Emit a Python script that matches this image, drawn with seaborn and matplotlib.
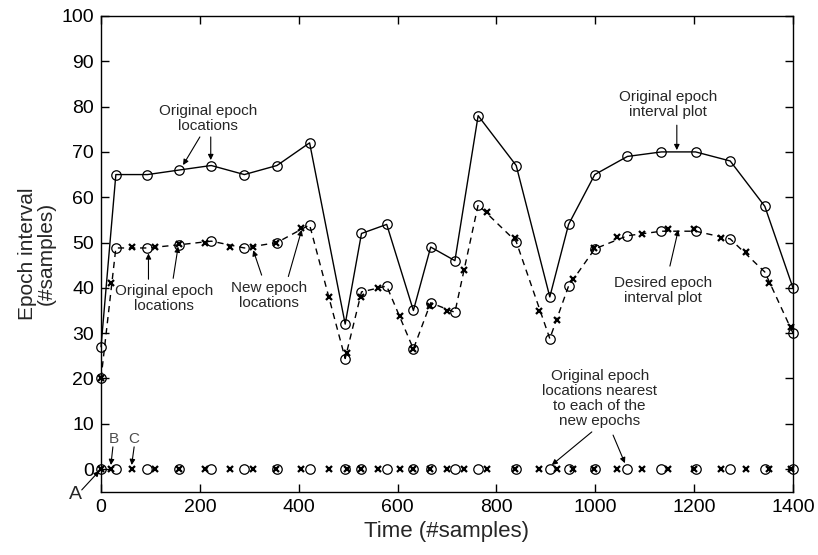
import matplotlib
matplotlib.use("Agg")
import matplotlib.pyplot as plt
import seaborn as sns

# original epoch locations and their intervals (solid curve)
orig_locs = [0, 30, 94, 158, 223, 290, 356, 422, 494, 527, 578, 632, 667,
             716, 763, 840, 908, 946, 999, 1065, 1134, 1203, 1273, 1343, 1400]
orig_interval = [27, 65, 65, 66, 67, 65, 67, 72, 32, 52, 54, 35, 49,
                 46, 78, 67, 38, 54, 65, 69, 70, 70, 68, 58, 40]
# desired interval read at the original epochs (dashed curve)
desired_at_orig = [20, 48.8, 48.8, 49.5, 50.3, 48.8, 50, 53.9, 24.4, 39.1, 40.4, 26.5, 36.7,
                   34.6, 58.3, 50.2, 28.8, 40.4, 48.6, 51.5, 52.5, 52.5, 50.8, 43.5, 30]
# new epoch locations and their desired intervals (x markers)
new_locs = [0, 20, 62, 110, 157, 210, 260, 308, 355, 405, 461, 497, 525, 561, 604, 632, 666,
            700, 735, 780, 838, 886, 922, 955, 998, 1044, 1095, 1148, 1200, 1255, 1305, 1352, 1396]
new_interval = [20, 41, 49, 49, 49.6, 50, 49, 49, 50, 53.1, 38, 25.7, 38, 40, 33.8, 26.6, 36,
                34.9, 43.9, 56.8, 51.1, 34.9, 32.9, 41.9, 48.9, 51.2, 51.9, 53, 53, 51.1, 47.9, 41.1, 31.4]

x_ticks = [0, 200, 400, 600, 800, 1000, 1200, 1400]
y_ticks = [0, 10, 20, 30, 40, 50, 60, 70, 80, 90, 100]

sns.set_style("ticks")
plt.rcParams["font.family"] = ["Liberation Sans", "DejaVu Sans"]

fig = plt.figure(figsize=(8.18, 5.55), dpi=100)
ax = fig.add_axes([0.1235, 0.114, 0.9694 - 0.1235, 0.9712 - 0.114])

circ = dict(marker="o", mfc="none", mec="k", ms=6.8, mew=0.9, clip_on=False)
cross = dict(marker="x", mec="k", ms=5, mew=1.6, clip_on=False)

sns.lineplot(x=orig_locs, y=orig_interval, ax=ax, color="k", lw=1.0, **circ)
sns.lineplot(x=orig_locs, y=desired_at_orig, ax=ax, color="k", lw=1.0,
             linestyle=(0, (4.5, 3.5)), **circ)
sns.lineplot(x=new_locs, y=new_interval, ax=ax, color="k", linestyle="none", **cross)

# bottom row: epoch positions
sns.lineplot(x=orig_locs, y=[0] * len(orig_locs), ax=ax, color="k", linestyle="none", **circ)
sns.lineplot(x=new_locs, y=[0] * len(new_locs), ax=ax, color="k", linestyle="none", **cross)

ax.set_xlim(0, 1400)
ax.set_ylim(-5, 100)
ax.set_xticks(x_ticks)
ax.set_yticks(y_ticks)
ax.tick_params(direction="in", top=True, right=True, length=5.5, width=1,
               labelsize=14, pad=5, colors="k")
for s in ax.spines.values():
    s.set_color("k")
    s.set_linewidth(1.0)
    s.set_visible(True)

ax.set_xlabel("Time (#samples)", fontsize=16, labelpad=4)
ax.set_ylabel("Epoch interval\n(#samples)", fontsize=15, labelpad=4, linespacing=1.0)

arrow = dict(arrowstyle="-|>", color="k", lw=0.8, mutation_scale=8, shrinkA=0, shrinkB=0)
tkw = dict(fontsize=11, ha="center", va="center", linespacing=1.1)

def note(text, pos, arrows):
    ax.text(pos[0], pos[1], text, **tkw)
    for tail, head in arrows:
        ax.annotate("", xy=head, xytext=tail, arrowprops=arrow, annotation_clip=False)

note("Original epoch\nlocations", (216, 77.3),
     [((200, 73.3), (166, 67.1)), ((222, 73.3), (222, 68.2))])
note("Original epoch\nlocations", (128, 37.7),
     [((96, 41.9), (96, 47.6)), ((146, 42.1), (156, 49.1))])
note("New epoch\nlocations", (340, 38.4),
     [((325, 42.8), (308, 48.3)), ((379, 42.5), (406, 52.8))])
note("Original epoch\ninterval plot", (1147, 80.4),
     [((1165, 75.9), (1165, 70.4))])
note("Desired epoch\ninterval plot", (1137, 39.5),
     [((1151, 44.8), (1168, 52.8))])
note("Original epoch\nlocations nearest\nto each of the\nnew epochs", (1009, 15.5),
     [((993, 8.2), (912, 0.9)), ((1036, 7.5), (1060, 1.3))])

ax.text(-52, -5.7, "A", fontsize=14, ha="center", va="center", clip_on=False)
ax.annotate("", xy=(-3.4, -0.4), xytext=(-39, -4.6), arrowprops=arrow, annotation_clip=False)
ax.text(25, 6.6, "B", fontsize=11, ha="center", va="center", color="0.3")
ax.annotate("", xy=(20, 0.9), xytext=(24, 4.9), arrowprops=arrow)
ax.text(67, 6.6, "C", fontsize=11, ha="center", va="center", color="0.3")
ax.annotate("", xy=(62, 0.9), xytext=(67, 4.9), arrowprops=arrow)

fig.savefig("out.png", dpi=100)
